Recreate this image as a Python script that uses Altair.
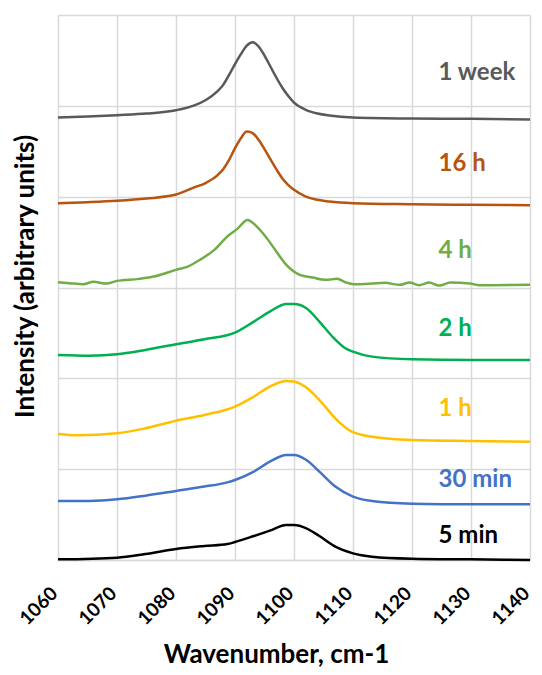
import altair as alt
import pandas as pd

series_names = ["5 min", "30 min", "1 h", "2 h", "4 h", "16 h", "1 week"]
series_colors = ["#000000", "#4472C4", "#FFC000", "#00B050", "#70AD47", "#B8540F", "#595959"]

wk_x = [1060, 1065, 1070, 1075, 1080, 1083, 1085, 1087, 1088, 1089, 1090, 1091, 1092, 1093,
        1094, 1095, 1096, 1097, 1098, 1099, 1100, 1102, 1104, 1106, 1110, 1120, 1130, 1140]
wk_y = [4.871, 4.882, 4.897, 4.915, 4.952, 5.003, 5.062, 5.158, 5.231, 5.341, 5.459, 5.569, 5.664, 5.701,
        5.653, 5.554, 5.433, 5.312, 5.202, 5.110, 5.036, 4.956, 4.915, 4.893, 4.871, 4.860, 4.857, 4.849]

h16_x = [1060, 1065, 1070, 1075, 1080, 1083, 1085, 1087, 1088, 1089, 1090, 1091, 1092, 1093,
         1094, 1095, 1096, 1097, 1098, 1099, 1100, 1102, 1104, 1106, 1110, 1120, 1130, 1140]
h16_y = [3.928, 3.939, 3.954, 3.979, 4.023, 4.100, 4.150, 4.235, 4.303, 4.405, 4.534, 4.644, 4.717, 4.699,
         4.626, 4.523, 4.413, 4.303, 4.203, 4.130, 4.075, 4.001, 3.965, 3.946, 3.928, 3.917, 3.910, 3.906]

h4_x = [1060, 1062, 1064.3, 1066, 1068.2, 1070, 1073.7, 1076.5, 1080, 1082, 1084.3, 1086.5, 1088.7,
        1090.4, 1092.1, 1093.7, 1095.4, 1097, 1098.7, 1101, 1103.2, 1105.4, 1107.3, 1108.7, 1110.1,
        1113.2, 1115.4, 1117.9, 1119.6, 1121.2, 1122.9, 1124.6, 1126.5, 1129.8, 1131.5, 1140]
h4_y = [3.058, 3.047, 3.036, 3.062, 3.043, 3.073, 3.095, 3.124, 3.194, 3.230, 3.315, 3.414, 3.561,
        3.645, 3.744, 3.671, 3.543, 3.396, 3.249, 3.139, 3.109, 3.084, 3.095, 3.058, 3.036,
        3.043, 3.051, 3.029, 3.054, 3.025, 3.054, 3.021, 3.054, 3.043, 3.025, 3.029]

h2_x = [1060, 1065.4, 1070, 1074.8, 1080, 1084.8, 1090, 1093.2, 1095.9, 1098.7, 1100, 1102.1,
        1104.3, 1106.5, 1108.7, 1110, 1113.2, 1120, 1130, 1140]
h2_y = [2.258, 2.250, 2.265, 2.313, 2.375, 2.430, 2.504, 2.625, 2.735, 2.819, 2.819, 2.772,
        2.625, 2.460, 2.331, 2.294, 2.239, 2.210, 2.203, 2.203]

h1_x = [1060, 1063.2, 1070, 1074.8, 1080, 1084.8, 1090, 1093.2, 1095.9, 1098.7, 1100, 1102.6,
        1104.8, 1107, 1109.8, 1113.2, 1120, 1130, 1140]
h1_y = [1.388, 1.373, 1.395, 1.450, 1.534, 1.597, 1.689, 1.799, 1.909, 1.971, 1.964, 1.872,
        1.725, 1.560, 1.413, 1.358, 1.322, 1.311, 1.303]

m30_x = [1060, 1065.4, 1070, 1074.8, 1080, 1084.8, 1088.7, 1090, 1093.2, 1095.9, 1098.7, 1100,
         1102.1, 1104.3, 1107, 1110, 1113.2, 1120, 1130, 1140]
m30_y = [0.650, 0.650, 0.668, 0.708, 0.760, 0.808, 0.855, 0.881, 0.973, 1.083, 1.156, 1.156,
         1.101, 0.973, 0.808, 0.698, 0.650, 0.620, 0.613, 0.613]

m5_x = [1060, 1070, 1074.8, 1080, 1084.8, 1088.7, 1090, 1093.2, 1095.9, 1098.7, 1100, 1102.1,
        1104.3, 1107, 1110, 1113.2, 1120, 1130, 1140]
m5_y = [0.007, 0.026, 0.066, 0.121, 0.154, 0.176, 0.198, 0.264, 0.323, 0.385, 0.385, 0.349,
        0.264, 0.147, 0.073, 0.037, 0.015, 0.007, 0.0]

label_x = [1124.5, 1124.5, 1124.5, 1124.5, 1124.5, 1124.5, 1124.5]
label_y = [0.187, 0.804, 1.586, 2.467, 3.329, 4.284, 5.286]

x_ticks = [1060, 1070, 1080, 1090, 1100, 1110, 1120, 1130, 1140]
y_grid = [0, 1, 2, 3, 4, 5, 6]

xs = [m5_x, m30_x, h1_x, h2_x, h4_x, h16_x, wk_x]
ys = [m5_y, m30_y, h1_y, h2_y, h4_y, h16_y, wk_y]
rows = []
for name, sx, sy in zip(series_names, xs, ys):
    for i, (a, b) in enumerate(zip(sx, sy)):
        rows.append({"series": name, "x": a, "y": b, "i": i})
df = pd.DataFrame(rows)
labels = pd.DataFrame({"series": series_names, "x": label_x, "y": label_y})

FONT = "Lato"
xscale = alt.Scale(domain=[1060, 1140], nice=False, zero=False)
yscale = alt.Scale(domain=[0, 6], nice=False)
cscale = alt.Scale(domain=series_names, range=series_colors)

xaxis = alt.Axis(values=x_ticks, format="d", grid=True, gridColor="#D9D9D9", gridWidth=1.5,
                 domain=True, domainColor="#D9D9D9", domainWidth=1.5, ticks=False,
                 labelAngle=-45, labelAlign="right", labelBaseline="middle",
                 labelPadding=30, labelOffset=-4, labelFontSize=19, labelFont=FONT,
                 labelFontWeight="bold", labelColor="#000000",
                 title="Wavenumber, cm-1", titleFont=FONT,
                 titleFontSize=26, titleFontWeight="bold", titleColor="#000000",
                 titleX=218, titleY=102, titleBaseline="alphabetic", titleAlign="center")
yaxis = alt.Axis(values=y_grid, grid=True, gridColor="#D9D9D9", gridWidth=1.5,
                 labels=False, ticks=False, domain=False,
                 title="Intensity (arbitrary units)", titleFont=FONT, titleFontSize=26,
                 titleFontWeight="bold", titleColor="#000000", titleX=-33, titleY=261,
                 titleBaseline="middle", titleAlign="center", titleAngle=270)

lines = alt.Chart(df).mark_line(strokeWidth=2.5, interpolate="monotone").encode(
    x=alt.X("x:Q", scale=xscale, axis=xaxis),
    y=alt.Y("y:Q", scale=yscale, axis=yaxis),
    color=alt.Color("series:N", scale=cscale, legend=None),
    order="i:Q",
)

texts = alt.Chart(labels).mark_text(align="left", baseline="alphabetic", font=FONT,
                                     fontWeight="bold", fontSize=24).encode(
    x=alt.X("x:Q", scale=xscale),
    y=alt.Y("y:Q", scale=yscale),
    text="series:N",
    color=alt.Color("series:N", scale=cscale, legend=None),
)

chart = alt.layer(lines, texts).properties(
    width=472, height=545,
    autosize=alt.AutoSizeParams(type="none"),
    padding={"left": 50, "top": 7, "right": 4, "bottom": 107},
).configure_view(stroke=None)

chart.save("out.html", embed_options={"renderer": "svg", "actions": False})
